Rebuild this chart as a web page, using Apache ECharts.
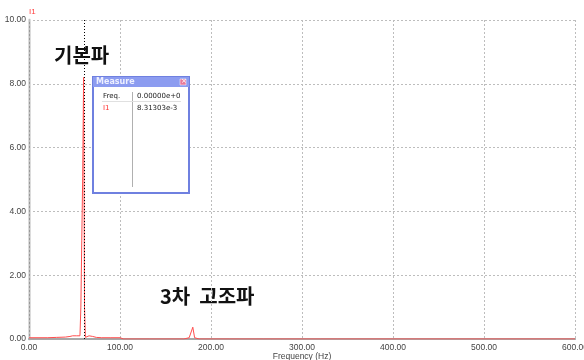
<!DOCTYPE html>
<html>
<head>
<meta charset="utf-8">
<script src="https://cdn.jsdelivr.net/npm/echarts@6/dist/echarts.min.js"></script>
<style>
  html, body { margin: 0; padding: 0; background: #fff; }
  #chart { width: 584px; height: 360px; }
</style>
</head>
<body>
<div id="chart"></div>
<script>
// spectrum (Hz, amplitude)
var freqs = [0, 20, 30, 40, 45, 48, 50, 52, 54, 56, 57, 58, 59, 60, 61, 62, 64, 66, 67, 68, 70, 74, 80, 90, 100,
    104, 110, 111, 112, 132, 133, 134, 170, 171, 172, 176, 178, 180, 182, 184, 187, 188, 189,
    220, 221, 222, 231, 232, 233, 258, 259, 260, 267, 268, 269, 278, 279, 280, 299, 300, 301,
    320, 321, 322, 339, 340, 341, 379, 380, 381, 399, 400, 401, 499, 500, 501, 600];
var amps = [0.04, 0.04, 0.05, 0.06, 0.08, 0.1, 0.14, 0.1, 0.05, 0.1, 1.0, 3.1, 5.1, 8.2, 1.0, 0.05, 0.06, 0.1, 0.13, 0.11, 0.08, 0.05, 0.04, 0.04, 0.04,
    0, 0, 0.05, 0, 0, 0.05, 0, 0, 0.05, 0, 0.04, 0.1, 0.37, 0.04, 0, 0, 0.05, 0,
    0, 0.05, 0, 0, 0.05, 0, 0, 0.05, 0, 0, 0.05, 0, 0, 0.05, 0, 0, 0.05, 0,
    0, 0.05, 0, 0, 0.05, 0, 0, 0.05, 0, 0, 0.05, 0, 0, 0.05, 0, 0];
var cursorFreq = 61;
var measureRows = [['Freq.', '0.00000e+0'], ['I1', '8.31303e-3']];

var myChart = echarts.init(document.getElementById('chart'));

var pts = [];
for (var i = 0; i < freqs.length; i++) {
    pts.push([freqs[i], amps[i]]);
}

var lblFont = { color: '#444', fontSize: 8.5, fontFamily: 'Liberation Sans' };

var option = {
    animation: false,
    grid: { left: 29, right: 9, top: 20, bottom: 21, outerBoundsMode: 'none' },
    xAxis: [{
        type: 'value', min: 0, max: 600, interval: 100, z: 3,
        name: 'Frequency (Hz)', nameLocation: 'middle', nameGap: 13, nameMoveOverlap: false,
        nameTextStyle: { color: '#444', fontSize: 8.5, fontFamily: 'Liberation Sans' },
        axisLine: { lineStyle: { color: '#a8a8a8', width: 2 } },
        axisTick: { show: false },
        axisLabel: Object.assign({ margin: 4, formatter: function (v) { return v.toFixed(2); } }, lblFont),
        splitLine: { lineStyle: { color: '#bdbdbd', type: [2, 2] } }
    }, {
        type: 'value', position: 'top', min: 0, max: 600,
        axisLine: { show: true, lineStyle: { color: '#dddddd', width: 2 } },
        axisTick: { show: false }, axisLabel: { show: false }, splitLine: { show: false }
    }],
    yAxis: [{
        type: 'value', min: 0, max: 10, interval: 2,
        name: 'I1', nameGap: 3,
        nameTextStyle: { color: '#ff4040', fontSize: 8, align: 'left', fontFamily: 'Liberation Sans' },
        axisLine: { show: true, lineStyle: { color: '#dcdcdc', width: 3 } },
        axisTick: { show: false },
        axisLabel: Object.assign({ margin: 3, formatter: function (v) { return v.toFixed(2); } }, lblFont),
        splitLine: { lineStyle: { color: '#bdbdbd', type: [2, 2] } }
    }, {
        type: 'value', position: 'right', min: 0, max: 10,
        axisLine: { show: true, lineStyle: { color: '#999999', width: 1 } },
        axisTick: { show: false }, axisLabel: { show: false }, splitLine: { show: false }
    }],
    series: [{
        type: 'line',
        data: pts,
        symbol: 'none',
        lineStyle: { color: '#ff4d4d', width: 1 },
        markLine: {
            silent: true, symbol: 'none', label: { show: false },
            lineStyle: { color: '#000', type: [1, 2], width: 1 },
            data: [{ xAxis: cursorFreq }]
        }
    }],
    graphic: [
        { type: 'text', left: 54, top: 45, style: { text: '기본파', fill: '#111', font: 'bold 20px "Noto Sans CJK KR"' } },
        { type: 'text', left: 160, top: 286, style: { text: '3차  고조파', fill: '#111', font: 'bold 20px "Noto Sans CJK KR"' } },
        // measure window
        { type: 'rect', shape: { x: 93, y: 77, width: 96, height: 116 }, style: { fill: '#fff', stroke: '#6f80e0', lineWidth: 2 }, z: 10 },
        { type: 'rect', shape: { x: 93, y: 77, width: 96, height: 10 }, style: { fill: '#8c9cf0' }, z: 11 },
        { type: 'text', left: 96, top: 78, style: { text: 'Measure', fill: '#eef0ff', font: 'bold 8px "DejaVu Sans"' }, z: 12 },
        { type: 'rect', shape: { x: 180, y: 79, width: 6, height: 6 }, style: { fill: '#e87a9a', stroke: '#fff', lineWidth: 0.5 }, z: 12 },
        { type: 'text', left: 181, top: 78, style: { text: '×', fill: '#fff', font: '7px "DejaVu Sans"' }, z: 13 },
        { type: 'line', shape: { x1: 132.5, y1: 92, x2: 132.5, y2: 187 }, style: { stroke: '#b0b0b0', lineWidth: 1 }, z: 11 },
        { type: 'line', shape: { x1: 102, y1: 101.5, x2: 181, y2: 101.5 }, style: { stroke: '#e0e0e0', lineWidth: 1 }, z: 11 },
        { type: 'text', left: 103, top: 93, style: { text: measureRows[0][0], fill: '#222', font: '7px "DejaVu Sans"' }, z: 12 },
        { type: 'text', left: 137, top: 93, style: { text: measureRows[0][1], fill: '#222', font: '7px "DejaVu Sans"' }, z: 12 },
        { type: 'text', left: 103, top: 105, style: { text: measureRows[1][0], fill: '#ff3030', font: '7px "DejaVu Sans"' }, z: 12 },
        { type: 'text', left: 137, top: 105, style: { text: measureRows[1][1], fill: '#222', font: '7px "DejaVu Sans"' }, z: 12 }
    ]
};

myChart.setOption(option);
window.onresize = function () {
    myChart.resize();
};
</script>
</body>
</html>
